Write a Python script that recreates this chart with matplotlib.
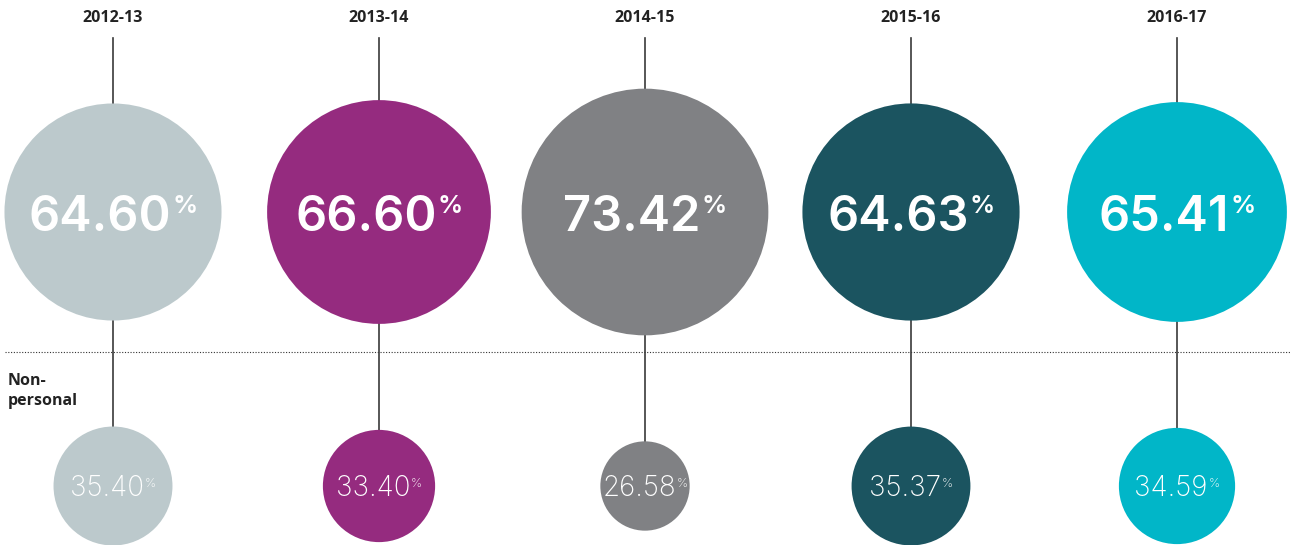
import numpy as np
import matplotlib
matplotlib.use("Agg")
from matplotlib import pyplot as plt
from matplotlib.patches import Circle

# datos
years = ["2012-13", "2013-14", "2014-15", "2015-16", "2016-17"]
personal = [64.60, 66.60, 73.42, 64.63, 65.41]
non_personal = [35.40, 33.40, 26.58, 35.37, 34.59]
colores = ["#BCC9CC", "#952B7F", "#808184", "#1B5460", "#01B6C8"]

W, H = 1292, 545
fig = plt.figure(figsize=(W / 100, H / 100), dpi=100)
ax = fig.add_axes([0, 0, 1, 1])
ax.set_xlim(0, W)
ax.set_ylim(H, 0)
ax.axis("off")

xs = 113 + 266 * np.arange(len(years))  # centros de columna (px)
y_top, y_bot = 212, 486
k = 1.68  # radio proporcional al valor

renderer = fig.canvas.get_renderer()


def etiqueta(cx, cy, valor, fs_num, fs_pct, peso, gap, dy_base):
    # numero + % chiquito arriba, todo centrado en el circulo
    t1 = ax.text(0, cy + dy_base, "%.2f" % valor, fontsize=fs_num, color="white",
                 family="Inter", weight=peso, ha="left", va="baseline", zorder=4)
    t2 = ax.text(0, cy + 1, "%", fontsize=fs_pct, color="white",
                 family="Inter", weight=peso, ha="left", va="baseline", zorder=4)
    w1 = t1.get_window_extent(renderer).width
    w2 = t2.get_window_extent(renderer).width
    x0 = cx - (w1 + gap + w2) / 2
    t1.set_x(x0)
    t2.set_x(x0 + w1 + gap)


for i in range(len(years)):
    x = xs[i]
    ax.plot([x, x], [38, y_bot], color="#3a3a3a", lw=1.2, zorder=1)
    ax.add_patch(Circle((x, y_top), k * personal[i], color=colores[i], zorder=2, lw=0))
    ax.add_patch(Circle((x, y_bot), k * non_personal[i], color=colores[i], zorder=2, lw=0))
    ax.text(x, 18, years[i], fontsize=11.5, weight="bold", color="#222222",
            ha="center", va="center", family="Open Sans")
    etiqueta(x, y_top, personal[i], 35, 18, "semibold", 1, 19)
    etiqueta(x, y_bot, non_personal[i], 20, 9, "light", 0.5, 10)

ax.plot([5, 1290], [352, 352], color="#333333", lw=0.8, ls=(0, (1, 1.5)), zorder=0)
ax.text(8, 373, "Non-\npersonal", fontsize=11.5, weight="bold", color="#222222",
        ha="left", va="top", family="Open Sans", linespacing=1.3)

fig.savefig("out.png", dpi=100)
